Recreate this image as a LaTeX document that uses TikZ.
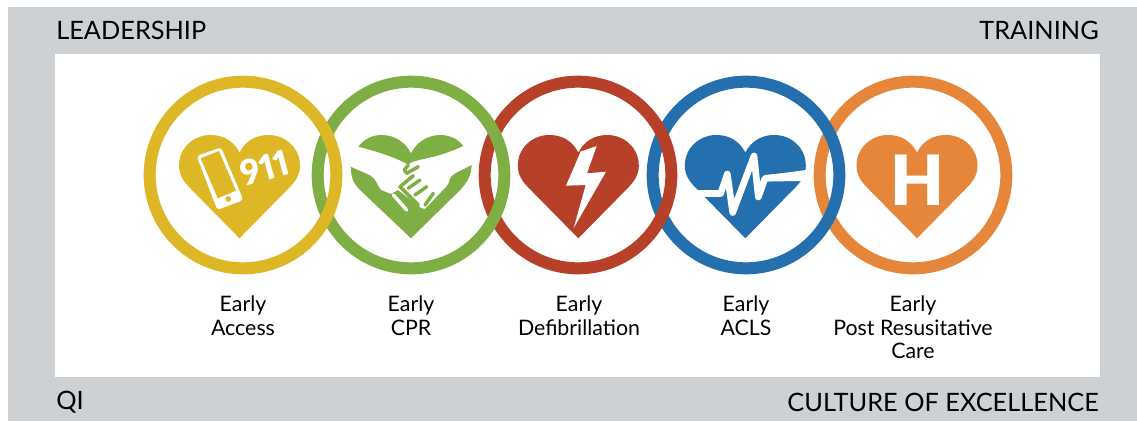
\documentclass[tikz,border=0pt]{standalone}
\usepackage{fontspec}
\setmainfont{Lato}
\newfontfamily\iconfont[Numbers=Proportional]{Lato Black}
\definecolor{backgray}{HTML}{CDD1D4}
\definecolor{accessyellow}{HTML}{DDB726}
\definecolor{cprgreen}{HTML}{7FAF44}
\definecolor{defibred}{HTML}{B74028}
\definecolor{aclsblue}{HTML}{246FAE}
\definecolor{careorange}{HTML}{E6863A}
\newcommand{\heartpath}[1]{(#1+0,238.3) -- (#1-49,188.5) .. controls (#1-56,181.5) and (#1-60.5,175) .. (#1-60.5,165.5) .. controls (#1-60.5,148) and (#1-46,135) .. (#1-29,135) .. controls (#1-16,135) and (#1-6,141) .. (#1+0,152.5) .. controls (#1+6,141) and (#1+16,135) .. (#1+29,135) .. controls (#1+46,135) and (#1+60.5,148) .. (#1+60.5,165.5) .. controls (#1+60.5,175) and (#1+56,181.5) .. (#1+49,188.5) -- cycle}
\tikzset{
  ring/.style={circle, draw=#1, line width=9pt, minimum size=140pt, inner sep=0pt, outer sep=0pt},
  caption/.style={align=center, font=\fontsize{16}{17.4}\selectfont, anchor=north, inner sep=0pt, text=black},
  corner/.style={font=\fontsize{19}{20}\selectfont, inner sep=0pt, text=black},
  handline/.style={cprgreen, line width=2.6pt, line cap=round, line join=round}
}
\begin{document}
\begin{tikzpicture}[x=0.75pt, y=-0.75pt]
  \useasboundingbox (0,0) rectangle (1137,421);
  % frame
  \fill[backgray] (8,7) rectangle (1137,421);
  \fill[white] (55,54) rectangle (1100,377);
  \node[corner, anchor=west] (leadership) at (56,30) {LEADERSHIP};
  \node[corner, anchor=east] (training) at (1099,30) {TRAINING};
  \node[corner, anchor=west] (qi) at (56,402) {QI};
  \node[corner, anchor=east] (culture) at (1099,402) {CULTURE OF EXCELLENCE};
  % rings, last one on top
  \foreach \ringname/\ringx/\ringcolor in {care/913/careorange, acls/746/aclsblue, defib/578/defibred, cpr/411/cprgreen, access/243/accessyellow}
    \node[ring=\ringcolor] (\ringname) at (\ringx,175) {};
  % hearts
  \fill[accessyellow] \heartpath{239.5};
  \fill[defibred] \heartpath{578.3};
  \fill[aclsblue] \heartpath{745.3};
  \fill[careorange] \heartpath{917};
  % phone and 911
  \fill[white, rounded corners=2.5pt] (196.7,156) -- (221,147.3) -- (243.3,200) -- (217.3,210) -- cycle;
  \fill[accessyellow] (200.7,158.3) -- (219,151) -- (236,190.7) -- (217.7,198.3) -- cycle;
  \fill[accessyellow] (228.3,199) circle (2.8);
  \node[rotate=15, text=white, font=\fontsize{26}{26}\iconfont, inner sep=0pt] (nineoneone) at (265,168) {911};
  % leaves and hands
  \fill[cprgreen] (358.3,146.7) .. controls (364,139) and (372,135) .. (382,135) .. controls (395,135) and (406,143) .. (411,153.3) .. controls (416,143) and (427,135) .. (440,135) .. controls (450,135) and (458,139) .. (463.3,146) .. controls (450,152) and (438,156) .. (428,158) .. controls (420,160) and (412,161) .. (408,164.5) .. controls (395,157) and (375,151) .. (358.3,146.7) -- cycle;
  \fill[cprgreen] (350.7,166.7) .. controls (351,175) and (352,182) .. (360,190) -- (411,238.3) -- (451.7,198.3) .. controls (466,185) and (471,178) .. (471.7,165) .. controls (462,170) and (455,173) .. (451.7,176) .. controls (449,179) and (450,183) .. (446,187) -- (425,209) -- (421,208) -- (398,190) -- (391,194) -- (381,190) .. controls (377,186) and (378,181) .. (370,175.3) -- cycle;
  \draw[white, line width=2.6pt, line cap=round] (393.3,195) -- (406.7,210);
  \draw[handline] (408.3,165) -- (404.3,170) -- (406.7,173.3) -- (418.3,166.7);
  \draw[handline] (413.3,175.7) -- (400,186.7) -- (418.3,205);
  \draw[handline] (408.3,188.3) -- (420,180);
  \draw[handline] (415,195) -- (426.7,186.7);
  \draw[handline] (425,205) -- (433.3,193.3);
  % defibrillator bolt
  \fill[white] (596.7,146) -- (580.7,151.5) -- (566,185.7) -- (585.7,185) -- (573.7,228) -- (606,171.7) -- (587,173.3) -- cycle;
  % pulse line
  \draw[white, line width=5pt, line join=round] (695,193.5) -- (720.7,193.5) -- (727.3,174) -- (732.7,212.5) -- (754,156) -- (758.3,197) -- (765,178.3) -- (790,176);
  \fill[white] (765,175.5) -- (806,170) -- (802,181) -- (765,181.5) -- cycle;
  % H
  \node[text=white, font=\fontsize{52}{52}\iconfont, inner sep=0pt] (hospital) at (917,180) {H};
  % captions
  \node[caption] (accesstext) at (243,296) {Early\\Access};
  \node[caption] (cprtext) at (411,296) {Early\\CPR};
  \node[caption] (defibtext) at (579,296) {Early\\Defibrillation};
  \node[caption] (aclstext) at (746,296) {Early\\ACLS};
  \node[caption] (caretext) at (913,296) {Early\\Post Resusitative\\Care};
\end{tikzpicture}
\end{document}
